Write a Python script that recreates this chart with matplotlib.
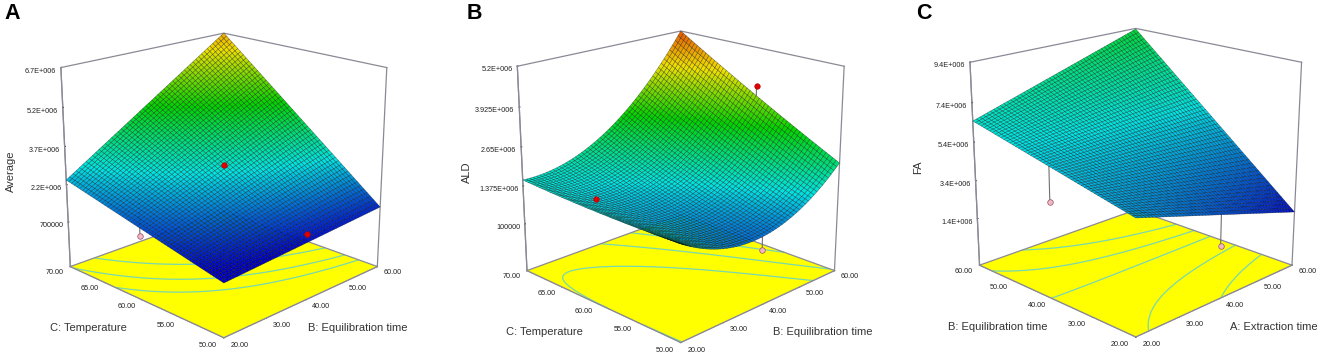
import numpy as np, matplotlib
matplotlib.use('Agg')
import matplotlib.pyplot as plt
from matplotlib.colors import LinearSegmentedColormap, Normalize

W, H = 1325, 353
S = 450
MESH = 52
plt.rcParams['font.family'] = ['Liberation Sans', 'DejaVu Sans']
cmap = LinearSegmentedColormap.from_list('de', ['#0000cc', '#00e4e4', '#00d400', '#f0e000', '#e02000'])

panel_letters = ['A', 'B', 'C']
# heights (millions): rows = y low/mid/high, columns = x low/mid/high
surface_a = [[0.873, 1.09, 1.312], [1.63, 2.82, 4.01], [2.391, 4.55, 6.706]]
surface_b = [[1.481, 0.71, 2.131], [1.46, 1.38, 3.605], [1.573, 2.37, 5.203]]
surface_c = [[4.498, 3.13, 1.76], [5.49, 5.53, 5.56], [6.481, 7.92, 9.367]]

x_ticks_a = [20, 30, 40, 50, 60]
y_ticks_a = [50, 55, 60, 65, 70]
y_ticks_c = [20, 30, 40, 50, 60]
z_ticks_a = [0.7e6, 2.2e6, 3.7e6, 5.2e6, 6.7e6]
z_ticks_b = [0.1e6, 1.375e6, 2.65e6, 3.925e6, 5.2e6]
z_ticks_c = [1.4e6, 3.4e6, 5.4e6, 7.4e6, 9.4e6]
z_labels_a = ['700000', '2.2E+006', '3.7E+006', '5.2E+006', '6.7E+006']
z_labels_b = ['100000', '1.375E+006', '2.65E+006', '3.925E+006', '5.2E+006']
z_labels_c = ['1.4E+006', '3.4E+006', '5.4E+006', '7.4E+006', '9.4E+006']
x_titles = ['B: Equilibration time', 'B: Equilibration time', 'A: Extraction time']
y_titles = ['C: Temperature', 'C: Temperature', 'B: Equilibration time']
z_titles = ['Average', 'ALD', 'FA']
z_floors = [-1.13e6, -1.5e6, -1.12e6]
colour_ranges = [(1.0e6, 7.9e6), (0.0e6, 5.6e6), (1.5e6, 19.5e6)]
contours_a = [1.9e6, 2.35e6, 3.0e6]
contours_b = [1.455e6, 2.2e6, 3.0e6]
contours_c = [3.1e6, 4.3e6, 5.5e6, 6.3e6, 7.2e6]
# design points: x, y, z, hidden-below-surface flag, top of stem
dots_a = [(40, 60, 2.971, 0, 2.971), (40, 50, 1.406, 0, 1.406), (37, 70, -0.89, 1, 3.9)]
dots_b = [(20, 60, 1.873, 0, 1.873), (60, 60, 3.93, 0, 3.605), (39.5, 50, 0.276, 1, 0.7)]
dots_c = [(20, 40, 3.757, 1, 5.49), (40, 20, 1.571, 1, 3.13)]

# camera: elev, focal length, z box ratio, zoom, centre px, centre py
views = [(18.94, 0.4697, 0.940, 0.819, 217.75, 176.1),
         (19.22, 0.4800, 0.965, 0.8275, 674.65, 177.6),
         (18.58, 0.4712, 0.940, 0.8334, 1129.69, 172.8)]
letter_px = [(4, 19), (466.5, 19), (916, 19)]
xtitle_px = [(358, 328), (823, 332), (1274, 327)]
ytitle_px = [(88, 328), (544, 332), (998, 327)]
ztitle_px = [(11, 171), (467, 172), (918, 167)]

fig = plt.figure(figsize=(W/100, H/100), dpi=100, facecolor='white')

def resample(table):
    t = np.linspace(0, 1, MESH + 1)
    w = np.stack([(t-.5)*(t-1)/.5, -t*(t-1)/.25, t*(t-.5)/.5], axis=1)
    return w @ np.asarray(table) @ w.T * 1e6

def panel(i, table, xt, yt, zt, zl, levels, dots):
    elev, f, hz, zm, cx, cy = views[i]
    ax = fig.add_axes([(cx-S/2)/W, 1-(cy+S/2)/H, S/W, S/H], projection='3d', computed_zorder=False)
    ax.patch.set_visible(False)
    xa, xb, ya, yb = xt[0], xt[-1], yt[0], yt[-1]
    zf, zm_top = z_floors[i], zt[-1]
    ax.set_xlim(xa, xb); ax.set_ylim(ya, yb); ax.set_zlim(zf, zm_top)
    ax.view_init(elev=elev, azim=-135)
    ax.set_proj_type('persp', focal_length=f)
    ax.set_box_aspect((1, 1, hz), zoom=zm)
    ax.grid(False)
    for a in (ax.xaxis, ax.yaxis, ax.zaxis):
        a.set_pane_color((1, 1, 1, 0))
        a.pane.set_edgecolor((1, 1, 1, 0))
        a.line.set_color('#8a8a96')
        a.line.set_linewidth(0.9)
        a._axinfo['tick'].update(inward_factor=0.0, outward_factor=0.04)
        a._axinfo['tick']['linewidth'] = {True: 0.8, False: 0.5}
        a.set_rotate_label(False)
    ax.set_xticks(xt, [f'{v:.2f}' for v in xt])
    ax.set_yticks(yt, [f'{v:.2f}' for v in yt])
    ax.set_zticks(zt, zl)
    ax.tick_params(axis='both', labelsize=5.2, colors='#222222', pad=-1.6)
    ax.tick_params(axis='z', pad=-5.5)
    for lab in ax.get_xticklabels():
        lab.set_va('bottom')
        lab.set_ha('left')
    for lab in ax.get_yticklabels():
        lab.set_va('bottom')
        lab.set_ha('right')
    for lab in ax.get_zticklabels():
        lab.set_ha('right')
        lab.set_va('top')
    # floor
    fx, fy = np.meshgrid([xa, xb], [ya, yb])
    ax.plot_surface(fx, fy, np.full_like(fx, zf, dtype=float), color='#ffff00', shade=False, linewidth=0, zorder=1)
    X, Y = np.meshgrid(np.linspace(xa, xb, MESH+1), np.linspace(ya, yb, MESH+1))
    Z = resample(table)
    ax.contour(X, Y, Z, levels=levels, zdir='z', offset=zf, colors='#78d8b0', linewidths=0.9, zorder=2)
    gc = '#8a8a96'
    ax.plot([xa, xb, xb], [yb, yb, ya], [zf]*3, color=gc, lw=0.9, zorder=2.5)
    ax.plot([xa, xa, xb], [yb, ya, ya], [zf]*3, color=gc, lw=0.9, zorder=2.5)
    ax.plot([xa, xb, xb], [yb, yb, ya], [zm_top]*3, color=gc, lw=0.9, zorder=2.5)
    ax.plot([xa, xa], [yb, yb], [zf, zm_top], color=gc, lw=0.9, zorder=2.5)
    ax.plot([xb, xb], [ya, ya], [zf, zm_top], color=gc, lw=0.9, zorder=2.5)
    for dx, dy, dz, hid, top in dots:
        if hid:
            ax.plot([dx, dx], [dy, dy], [dz*1e6, top*1e6], color='#707070', lw=0.8, zorder=3)
            ax.plot([dx], [dy], [dz*1e6], 'o', ms=4, mfc='#f4b8c4', mec='#905060', mew=0.5, zorder=3.5)
    vmin, vmax = colour_ranges[i]
    zc = (Z[:-1, :-1] + Z[1:, :-1] + Z[:-1, 1:] + Z[1:, 1:]) / 4
    fc = cmap(Normalize(vmin, vmax)(zc))
    ax.plot_surface(X, Y, Z, facecolors=fc, rstride=1, cstride=1, shade=False,
                    edgecolor=(0, 0, 0, 0.5), linewidth=0.35, zorder=4)
    for dx, dy, dz, hid, top in dots:
        if not hid:
            ax.plot([dx, dx], [dy, dy], [dz*1e6, top*1e6], color='#707070', lw=0.8, zorder=5)
            ax.plot([dx], [dy], [dz*1e6], 'o', ms=4, mfc='#e00000', mec='#b00000', mew=0.4, zorder=6)
    ax.set_xlabel(''); ax.set_ylabel(''); ax.set_zlabel('')
    fig.text(xtitle_px[i][0]/W, 1-xtitle_px[i][1]/H, x_titles[i], ha='center', va='center', fontsize=8, color='#333333')
    fig.text(ytitle_px[i][0]/W, 1-ytitle_px[i][1]/H, y_titles[i], ha='center', va='center', fontsize=8, color='#333333')
    fig.text(ztitle_px[i][0]/W, 1-ztitle_px[i][1]/H, z_titles[i], ha='center', va='center', rotation=90, fontsize=8, color='#333333')
    fig.text(letter_px[i][0]/W, 1-letter_px[i][1]/H, panel_letters[i], ha='left', va='baseline', fontsize=15.5, fontweight='bold', color='black')

panel(0, surface_a, x_ticks_a, y_ticks_a, z_ticks_a, z_labels_a, contours_a, dots_a)
panel(1, surface_b, x_ticks_a, y_ticks_a, z_ticks_b, z_labels_b, contours_b, dots_b)
panel(2, surface_c, x_ticks_a, y_ticks_c, z_ticks_c, z_labels_c, contours_c, dots_c)

fig.savefig('out.png', dpi=100, facecolor='white')
